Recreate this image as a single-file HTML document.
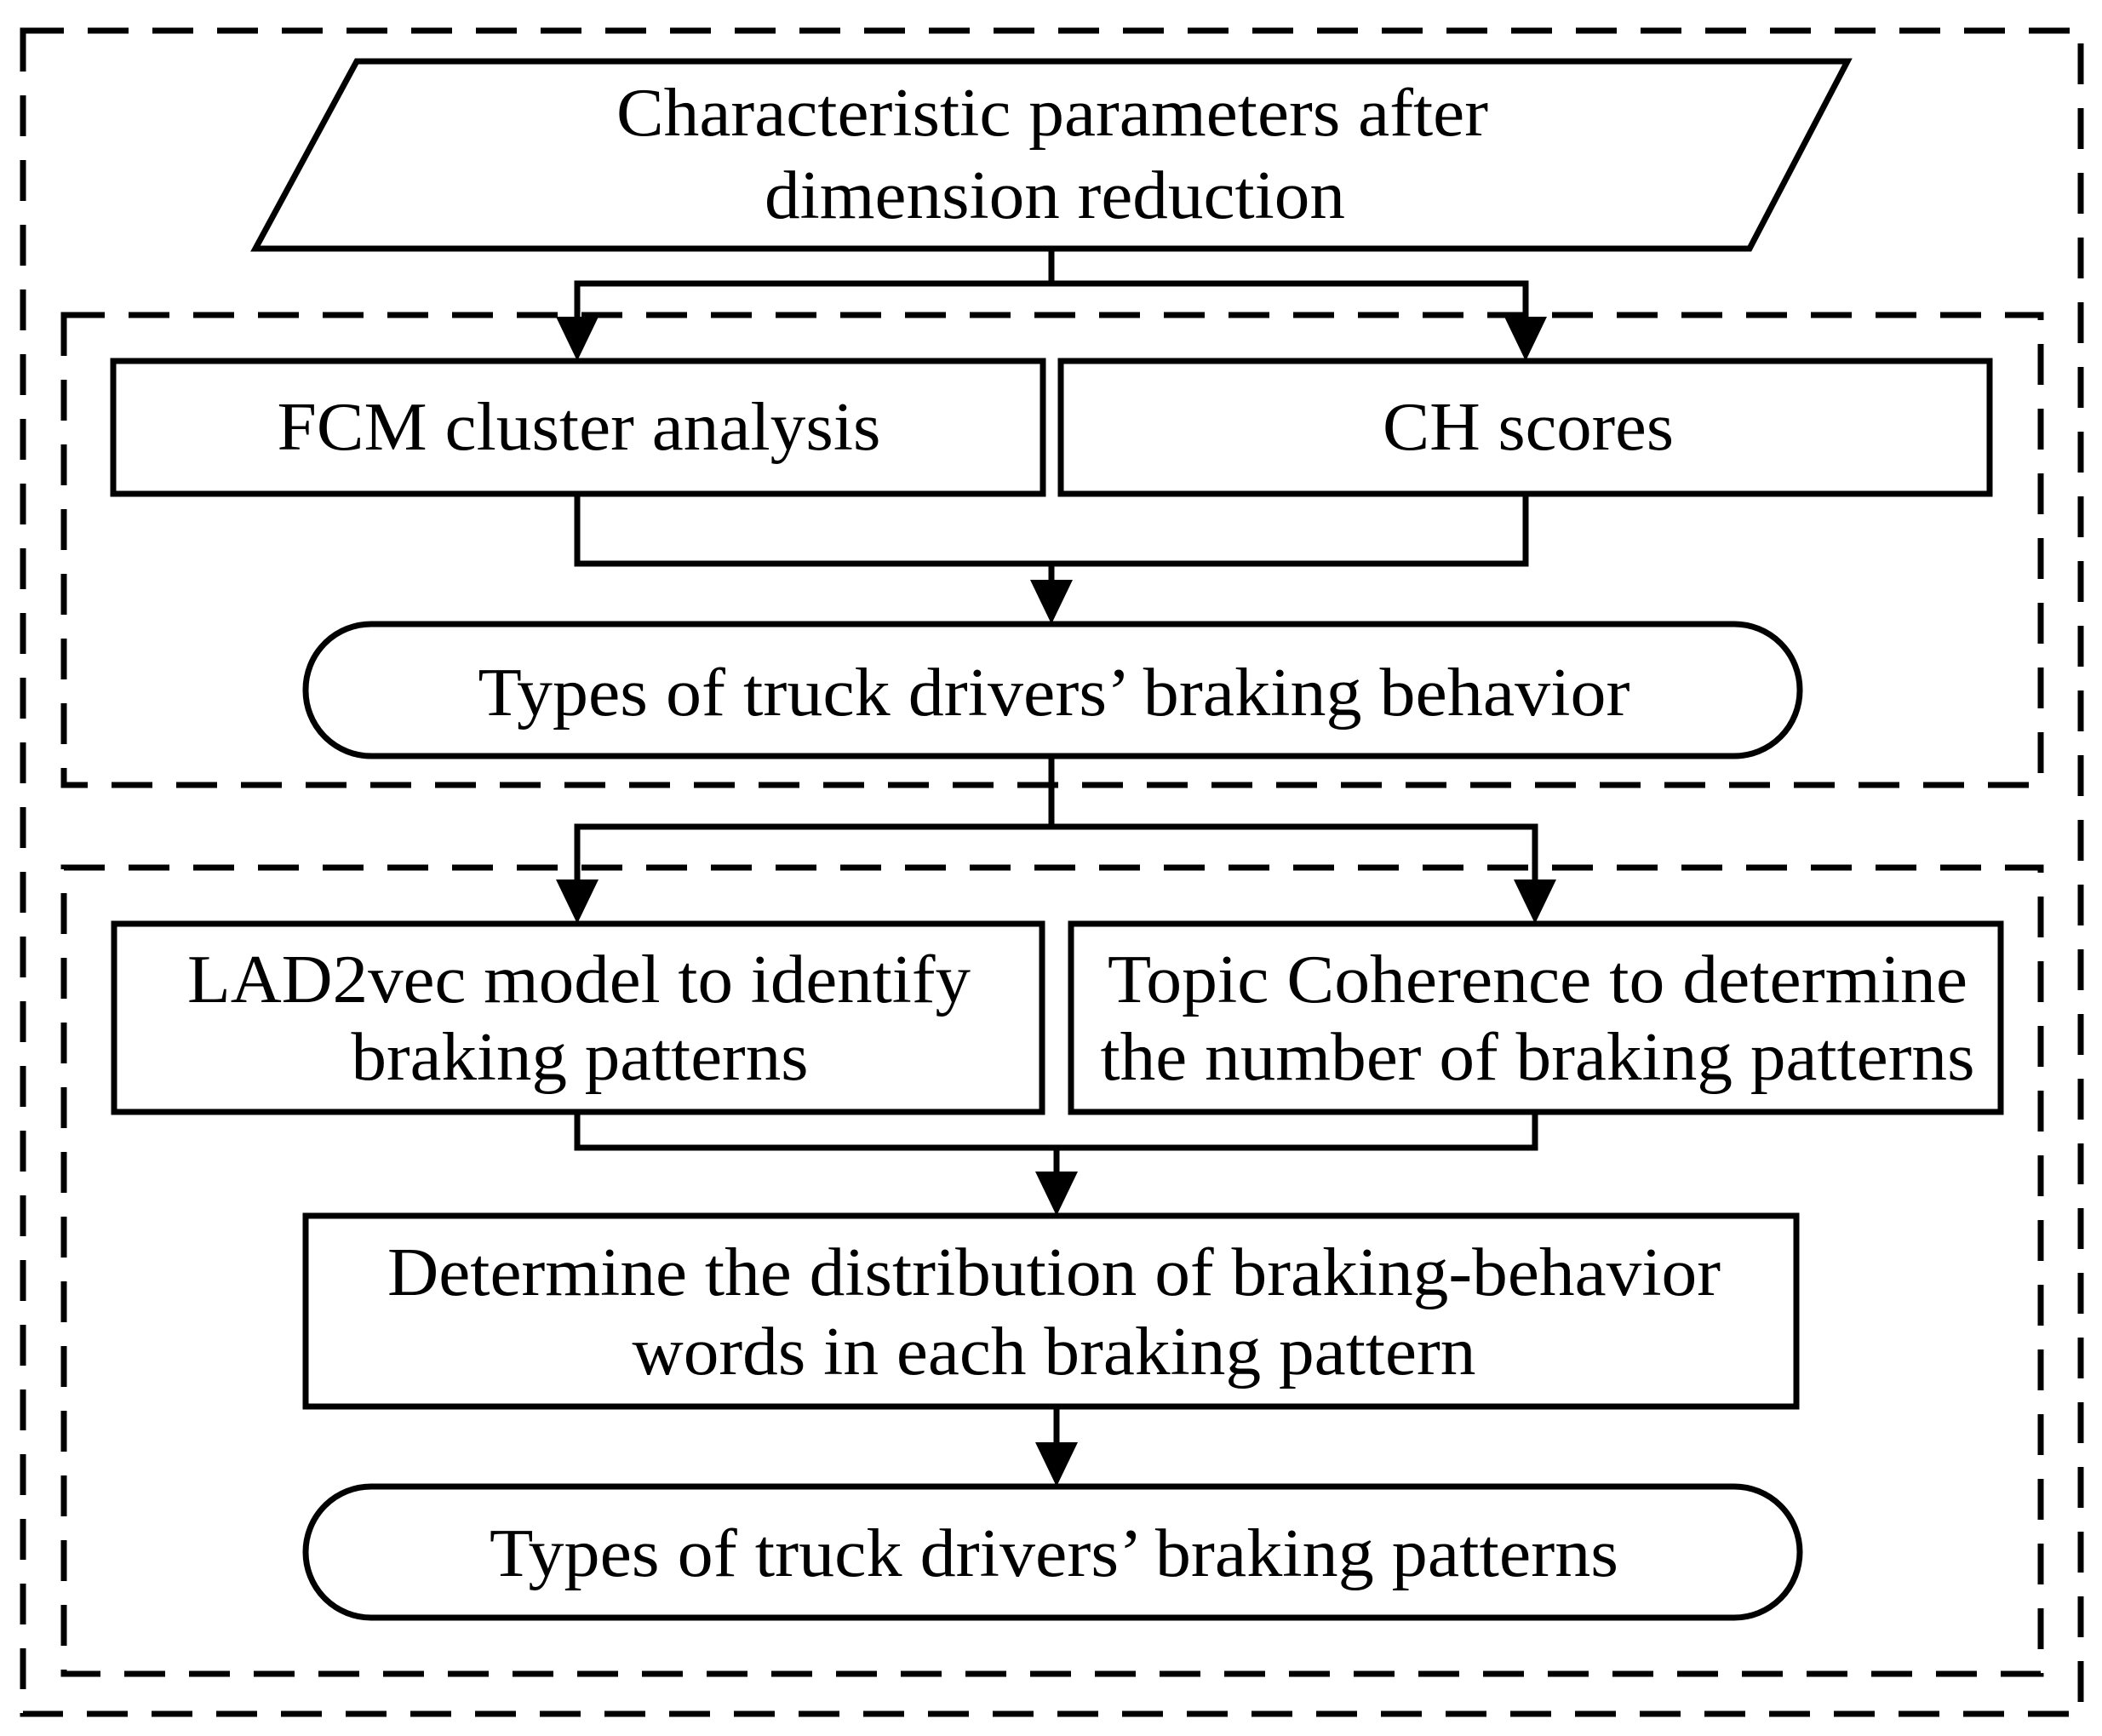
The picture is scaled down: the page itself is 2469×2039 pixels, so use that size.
<!DOCTYPE html>
<html><head><meta charset="utf-8"><style>html,body{margin:0;padding:0;background:#fff}svg{display:block}</style></head>
<body>
<svg width="2469" height="2039" viewBox="0 0 2469 2039" xmlns="http://www.w3.org/2000/svg" font-family="'Liberation Serif', serif" font-size="80">
<rect width="2469" height="2039" fill="#fff"/>
<g fill="none" stroke="#000" stroke-width="7">
<rect x="27" y="36" width="2417" height="1977" stroke-dasharray="48 28"/>
<rect x="75" y="370" width="2322" height="552" stroke-dasharray="48 28"/>
<rect x="75" y="1019" width="2322" height="947" stroke-dasharray="48 28"/>
<polygon points="419,72 2170,72 2055,292 300,292"/>
<rect x="133" y="424" width="1092" height="156"/>
<rect x="1246" y="424" width="1091" height="156"/>
<rect x="359" y="733" width="1755" height="155" rx="77"/>
<rect x="134" y="1085" width="1090" height="221"/>
<rect x="1258" y="1085" width="1092" height="221"/>
<rect x="359" y="1428" width="1751" height="224"/>
<rect x="359" y="1746" width="1755" height="154" rx="77"/>
<polyline points="1235,292 1235,333"/>
<polyline points="678,385 678,333 1792,333 1792,385"/>
<polyline points="678,580 678,662 1792,662 1792,580"/>
<polyline points="1235,662 1235,690"/>
<polyline points="1235,888 1235,971"/>
<polyline points="678,1040 678,971 1803,971 1803,1040"/>
<polyline points="678,1306 678,1348 1803,1348 1803,1306"/>
<polyline points="1241,1348 1241,1385"/>
<polyline points="1241,1652 1241,1703"/>
</g>
<g fill="#000">
<polygon points="653,372 703,372 678,424"/>
<polygon points="1767,372 1817,372 1792,424"/>
<polygon points="1210,681 1260,681 1235,733"/>
<polygon points="653,1033 703,1033 678,1085"/>
<polygon points="1778,1033 1828,1033 1803,1085"/>
<polygon points="1216,1376 1266,1376 1241,1428"/>
<polygon points="1216,1694 1266,1694 1241,1746"/>
</g>
<g text-anchor="middle" fill="#000">
<text x="1236" y="159" textLength="1024" lengthAdjust="spacingAndGlyphs">Characteristic parameters after</text>
<text x="1239" y="256" textLength="682" lengthAdjust="spacingAndGlyphs">dimension reduction</text>
<text x="680" y="528" textLength="709" lengthAdjust="spacingAndGlyphs">FCM cluster analysis</text>
<text x="1795" y="528" textLength="342" lengthAdjust="spacingAndGlyphs">CH scores</text>
<text x="1238" y="840" textLength="1353" lengthAdjust="spacingAndGlyphs">Types of truck drivers’ braking behavior</text>
<text x="680" y="1177" textLength="920" lengthAdjust="spacingAndGlyphs">LAD2vec model to identify</text>
<text x="681" y="1268" textLength="537" lengthAdjust="spacingAndGlyphs">braking patterns</text>
<text x="1806" y="1177" textLength="1010" lengthAdjust="spacingAndGlyphs">Topic Coherence to determine</text>
<text x="1806" y="1268" textLength="1027" lengthAdjust="spacingAndGlyphs">the number of braking patterns</text>
<text x="1238" y="1521" textLength="1566" lengthAdjust="spacingAndGlyphs">Determine the distribution of braking-behavior</text>
<text x="1238" y="1614" textLength="991" lengthAdjust="spacingAndGlyphs">words in each braking pattern</text>
<text x="1238" y="1851" textLength="1326" lengthAdjust="spacingAndGlyphs">Types of truck drivers’ braking patterns</text>
</g>
</svg>
</body></html>
